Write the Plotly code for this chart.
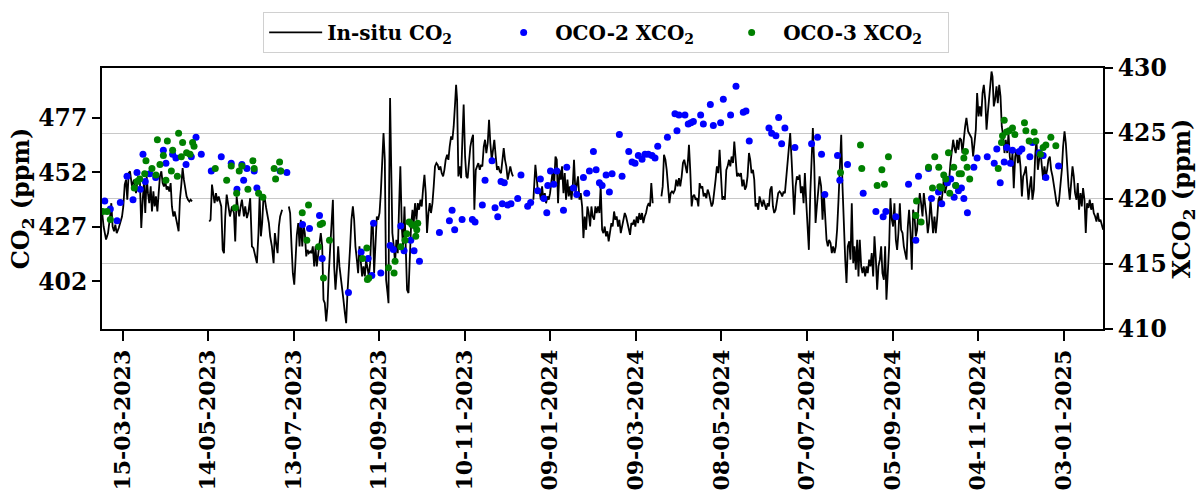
import pandas as pd
import plotly.graph_objects as go

START_DATE = "2023-03-15"

# In-situ CO2 (ppm): days since START_DATE, value (None = data gap)
insitu_days = [
    -14.4, -13.3, -11.6, -10.2, -8.8, -7.9, -7.0, -6.0, -5.1, -4.1, -2.7, -1.3, -0.4, 0.5, 1.5, 2.4, 3.3, 4.3, 5.2, 6.6,
    8.0, 9.4, 10.8, 12.2, 13.1, 14.1, 15.0, 15.9, 16.9, 17.8, 18.7, 19.7, 20.6, 21.6, 22.5, 23.4, 24.4, 25.3, 26.2, 27.2,
    28.1, 29.0, 30.0, 30.9, 31.8, 32.8, 33.7, 34.6, 35.6, 36.5, 37.4, 38.4, 39.3, 40.2, 41.2, 42.1, 43.0, 44.0, 44.9, 45.9,
    46.8, 47.7, 48.7, 54.0,
    60.8, 61.7, 62.7, 63.6, 64.5, 65.5, 66.4, 67.4, 69.2, 70.2, 71.1, 72.0, 73.0, 73.9, 75.3, 76.7, 78.1, 79.0, 80.0, 80.9,
    81.8, 82.8, 83.7, 85.1, 86.0, 87.2, 88.3, 89.5, 90.7, 91.8, 93.0, 94.2, 95.3, 96.1, 97.0, 97.9, 98.9, 99.8, 100.7, 101.7,
    102.6, 103.5, 104.7, 105.9, 106.8, 107.7, 108.7, 109.6, 110.5, 111.9, 114.0,
    116.6, 117.5, 118.5, 119.4, 120.4, 121.3, 122.2, 123.2, 124.1, 125.0, 126.0, 126.9, 127.8, 128.8, 129.7, 130.6, 131.6,
    132.5, 133.4, 134.4, 135.3, 136.2, 137.2, 138.1, 139.0, 140.0, 140.9, 141.8, 142.8, 143.7, 144.6, 145.6, 146.5, 147.5,
    148.4, 149.3, 150.3, 151.2, 152.1, 153.1, 154.0, 154.9, 155.9, 156.8, 157.7, 158.7, 159.6, 160.5, 161.5, 162.4, 163.3,
    164.3, 165.2, 166.1, 167.1, 168.0, 168.9, 169.9, 170.8, 171.7, 172.7, 173.6, 174.6, 175.5, 176.4, 177.4, 178.3, 179.2,
    180.2, 181.1, 182.0, 183.0, 183.9, 184.8, 185.8, 186.5, 186.9, 187.6, 188.3, 189.2, 190.2, 191.1, 192.0, 193.0, 193.9,
    194.8, 195.8, 196.7, 197.7, 198.6, 199.5, 200.5, 201.4, 202.3, 203.3, 204.2, 205.1, 206.1, 207.0, 207.9, 208.9, 209.8,
    210.7, 211.7, 212.6, 213.5, 214.5, 215.4, 216.3, 217.3, 218.2, 219.1, 220.1, 221.0, 221.9, 222.9, 223.8, 224.8, 225.7,
    226.6, 227.6, 228.5, 229.4, 230.4, 231.3, 232.2, 233.2, 233.9, 234.6, 235.5, 236.4, 237.4, 238.3, 239.2, 240.2, 241.1,
    242.0, 243.0, 243.9, 244.8, 245.8, 246.7, 247.7, 248.6, 249.5, 250.5, 251.4, 252.3, 253.3, 254.2, 255.1, 256.1, 257.0,
    257.9, 258.9, 259.8, 260.7, 261.7, 262.6, 263.5, 264.5, 265.4, 266.3, 267.3, 268.2, 269.1, 270.1, 271.0, 271.9, 272.9,
    273.8, 281.0,
    288.1, 288.6, 289.5, 290.5, 291.4, 292.3, 293.3, 294.2, 295.1, 296.1, 297.0, 298.0, 298.9, 299.8, 300.8, 301.7, 302.6,
    303.6, 304.5, 305.4, 306.4, 307.3, 308.2, 309.2, 310.1, 311.0, 312.0, 312.9, 313.8, 314.8, 315.7, 316.6, 317.6, 318.5,
    319.4, 320.4, 321.3, 322.3, 323.2, 324.1, 325.1, 326.0, 326.9, 327.9, 328.8, 329.7, 330.7, 331.6, 332.5, 333.5, 334.4,
    335.3, 336.3, 337.2, 338.1, 339.1, 340.0, 340.9, 341.9, 342.8, 343.7, 344.7, 345.6, 346.5, 347.5, 348.4, 349.4, 350.3,
    351.2, 352.2, 353.1, 354.0, 355.0, 355.9, 356.8, 357.8, 358.7, 359.6, 360.6, 361.5, 362.4, 363.4, 364.3, 365.2, 366.2,
    367.1, 368.0, 369.0, 369.9, 370.8, 371.8, 375.0,
    377.9, 378.8, 379.7, 380.7, 381.6, 382.5, 383.5, 384.4, 385.3, 386.3, 387.4, 388.3, 389.3, 390.2, 391.1, 392.1, 393.0,
    393.9, 394.9, 395.8, 396.7, 397.2, 398.1, 399.1, 400.0, 400.9, 401.9, 402.8, 403.8, 404.7, 405.6, 406.6, 407.5, 408.4,
    409.4, 410.3, 411.2, 412.2, 413.1, 414.0, 415.0, 415.9, 416.8, 417.8, 418.7, 419.6, 420.6, 421.5, 422.4, 423.4, 424.3,
    425.3, 426.2, 427.1, 428.1, 429.0, 429.9, 430.9, 431.8, 432.7, 433.7, 434.6, 435.5, 436.5, 437.4, 438.3, 439.3, 440.2,
    441.1, 442.1, 443.0, 443.9, 444.9, 445.8, 446.7, 447.7, 448.6, 449.5, 450.5, 451.4, 452.4, 453.3, 454.2, 455.2, 456.1,
    457.0, 458.0, 458.9, 459.8, 460.8, 461.7, 462.6, 463.6, 464.5, 465.4, 466.4, 467.3, 468.2, 469.2, 470.1, 471.0, 472.0,
    472.9, 473.9, 474.8, 475.7, 476.7, 477.6, 478.5, 479.5, 480.4, 481.3, 482.3, 483.2, 484.1, 485.1, 486.0, 486.9, 487.9,
    488.8, 489.9, 490.9, 491.8, 492.7, 493.7, 494.6, 495.5, 496.5, 497.4, 498.3, 499.3, 500.2, 501.1, 502.1, 503.0, 504.0,
    504.9, 505.8, 506.8, 507.7, 508.6, 509.6, 510.5, 511.4, 512.4, 513.3, 514.2, 515.2, 516.1, 517.0, 518.0, 518.9, 519.8,
    520.8, 521.7, 522.6, 523.6, 524.5, 525.4, 526.4, 527.3, 528.3, 529.2, 530.1, 531.1, 532.0, 532.9, 533.9, 534.8, 535.7,
    536.7, 537.6, 538.5, 539.5, 540.4, 541.3, 542.3, 543.2, 544.1, 545.1, 546.0, 547.0, 547.9, 548.8, 549.8, 550.7, 551.6,
    552.6, 553.5, 554.4, 555.4, 556.3, 557.2, 558.2, 559.1, 560.0, 561.0, 561.9, 562.8, 563.8, 564.7, 565.6, 566.6, 567.5,
    568.4, 569.4, 570.3, 571.2, 572.2, 573.1, 574.0, 575.0, 575.9, 576.8, 577.8, 578.7, 579.7, 580.6, 581.5, 582.5, 583.4,
    584.3, 585.3, 586.2, 587.1, 588.1, 589.0, 589.9, 590.9, 591.8, 593.0, 594.2, 595.4, 596.5, 597.5, 598.4, 599.3, 600.3,
    601.2, 602.2, 603.1, 604.0, 605.0, 605.9, 606.8, 607.8, 608.7, 609.4, 610.1, 611.0, 611.9, 612.9, 613.8, 614.8, 615.7,
    616.6, 617.6, 618.5, 619.4, 620.4, 621.3, 622.2, 623.2, 624.1, 625.0, 626.0, 626.9, 627.9, 628.8, 629.7, 630.7, 631.6,
    632.5, 633.5, 634.4, 635.3, 636.3, 637.2, 638.1, 639.1, 640.0, 640.9, 641.9, 642.8, 643.7, 644.7, 645.6, 646.5, 647.5,
    648.4, 649.3, 650.3, 651.2, 652.2, 653.1, 654.0, 655.0, 655.9, 656.8, 657.8, 658.7, 659.6, 660.6, 661.5, 662.4, 663.4,
    664.3, 665.2, 666.2, 667.1, 668.0, 669.0, 669.9, 670.8, 671.8, 672.7, 673.6, 674.6, 675.5, 676.4, 677.4, 678.3, 679.3,
    680.2, 681.1, 682.1, 683.0, 683.9, 684.9, 685.8, 686.7, 687.7,
]
insitu_ppm = [
    434.1, 427.2, 421.2, 424.2, 431.8, 437.9, 427.2, 425.0, 428.0, 424.2, 426.5, 430.3, 431.8, 436.4, 446.4, 448.7, 439.5, 451.7, 452.5, 445.6,
    448.7, 442.5, 450.2, 447.1, 426.5, 439.5, 447.1, 433.4, 450.2, 442.5, 437.9, 445.6, 434.1, 443.3, 436.4, 441.0, 434.1, 442.5, 450.2, 452.5,
    447.1, 445.6, 447.9, 444.1, 445.6, 443.3, 447.1, 436.4, 431.8, 434.1, 430.3, 428.0, 425.0, 439.5, 446.4, 454.0, 448.7, 444.1, 441.0, 439.5,
    438.7, 439.5, 438.7, None,
    429.5, 430.3, 446.4, 441.0, 437.9, 442.5, 438.7, 441.0, 436.4, 416.5, 415.0, 431.8, 441.8, 437.9, 431.8, 436.4, 433.4, 420.4, 441.0, 435.7,
    431.8, 436.4, 439.5, 431.8, 436.4, 431.1, 434.1, 440.2, 418.1, 417.3, 414.3, 410.4, 424.2, 441.0, 422.7, 428.8, 441.8, 439.5, 435.7, 431.8,
    428.8, 422.7, 418.1, 410.4, 424.2, 419.6, 415.0, 427.2, 431.8, 434.9, None,
    436.4, 433.4, 418.1, 405.8, 400.5, 413.5, 423.4, 428.8, 418.1, 430.3, 418.1, 428.0, 424.2, 413.5, 416.5, 415.0, 415.8,
    415.0, 418.1, 408.9, 418.1, 408.9, 413.5, 419.6, 424.2, 418.1, 393.6, 392.1, 383.7, 390.5, 405.8, 416.5, 428.8, 439.5,
    408.9, 398.2, 407.4, 418.1, 408.9, 404.3, 399.7, 393.6, 387.5, 382.9, 396.7, 405.8, 418.1, 430.3, 436.4, 430.3, 418.1,
    412.0, 405.8, 418.1, 412.0, 404.3, 408.9, 404.3, 412.0, 408.9, 404.3, 410.4, 427.2, 428.8, 405.8, 419.6, 431.8, 430.3,
    433.4, 442.5, 457.8, 470.1, 457.8, 402.8, 396.7, 392.0, 442.5, 486.1, 457.8, 424.2, 418.1, 410.4, 421.1, 415.0, 436.4,
    454.8, 427.2, 418.1, 436.4, 412.0, 398.2, 396.7, 415.0, 427.2, 434.9, 428.8, 437.9, 430.3, 437.9, 434.9, 439.5, 436.4,
    444.1, 450.9, 442.5, 424.2, 433.4, 437.9, 433.4, 437.9, 445.6, 454.8, 456.3, 455.5, 453.2, 454.8, 451.7, 450.2, 453.2,
    457.8, 460.1, 457.8, 463.9, 468.5, 467.0, 473.1, 483.8, 492.2, 485.3, 450.2, 454.8, 449.4, 467.0, 483.1, 459.3, 450.2,
    449.4, 457.8, 463.9, 467.0, 469.3, 434.9, 453.2, 454.8, 456.3, 453.2, 455.5, 454.8, 463.9, 467.0, 460.9, 465.5, 476.2,
    465.5, 457.8, 462.4, 467.0, 459.3, 453.2, 454.8, 452.5, 451.7, 457.8, 463.2, 457.8, 454.8, 448.7, 451.7, 454.8, 451.7,
    450.2, None,
    439.5, 445.6, 455.5, 448.7, 442.5, 444.1, 439.5, 445.6, 439.5, 442.5, 437.9, 441.0, 439.5, 442.5, 447.1, 453.2, 445.6,
    459.3, 457.8, 437.9, 453.2, 448.7, 454.8, 442.5, 451.7, 439.5, 448.7, 441.0, 445.6, 439.5, 445.6, 457.8, 442.5, 445.6,
    450.2, 439.5, 442.5, 436.4, 421.9, 431.8, 425.7, 436.4, 433.4, 427.2, 436.4, 431.8, 430.3, 436.4, 433.4, 436.4, 433.4,
    445.6, 425.7, 424.2, 427.2, 422.7, 425.0, 420.4, 425.7, 428.8, 427.2, 434.1, 430.3, 431.8, 427.2, 430.3, 424.2, 427.2,
    430.3, 433.4, 431.8, 428.8, 427.2, 423.4, 428.8, 428.0, 430.3, 427.2, 431.8, 428.8, 433.4, 430.3, 433.4, 428.8, 431.8,
    433.4, 436.4, 437.9, 436.4, 447.1, 437.9, None,
    441.0, 445.6, 460.1, 457.8, 453.2, 444.1, 437.9, 442.5, 443.3, 442.5, 444.1, 448.7, 445.6, 449.4, 445.6, 450.2, 456.3,
    457.8, 454.8, 451.7, 459.3, 464.7, 453.2, 436.4, 441.0, 441.8, 439.5, 440.2, 436.4, 447.1, 444.8, 445.6, 441.0, 442.5,
    440.2, 444.1, 442.5, 439.5, 436.4, 437.9, 442.5, 448.7, 454.8, 451.7, 462.4, 453.2, 439.5, 441.0, 439.5, 453.2, 454.8,
    457.8, 454.8, 459.3, 456.3, 466.2, 459.3, 450.2, 451.7, 450.2, 451.7, 445.6, 448.7, 444.1, 445.6, 450.2, 460.9, 457.8,
    451.7, 453.2, 448.7, 436.4, 437.9, 434.9, 441.0, 437.9, 436.4, 439.5, 436.4, 434.9, 437.9, 436.4, 444.1, 445.6, 436.4,
    433.4, 434.9, 439.5, 442.5, 443.3, 442.5, 441.0, 443.3, 442.5, 450.2, 457.8, 463.9, 470.1, 457.8, 445.6, 432.6, 445.6,
    450.2, 448.7, 450.9, 442.5, 445.6, 437.9, 451.7, 437.9, 425.7, 416.5, 442.5, 462.4, 472.4, 454.8, 428.8, 436.4, 444.1,
    450.2, 445.6, 430.3, 442.5, 431.8, 421.1, 418.1, 421.1, 419.6, 415.0, 418.1, 415.0, 418.1, 425.7, 439.5, 453.2, 469.3,
    445.6, 424.2, 412.0, 401.3, 418.1, 420.4, 412.0, 437.9, 410.4, 418.1, 407.4, 421.1, 404.3, 421.1, 408.9, 405.8, 408.9,
    404.3, 408.9, 405.8, 412.0, 408.9, 415.0, 404.3, 422.7, 412.0, 398.2, 408.9, 412.0, 418.1, 405.8, 402.8, 418.1, 393.6,
    408.9, 418.1, 440.2, 430.3, 427.2, 437.9, 421.1, 416.5, 424.2, 437.9, 425.7, 424.2, 418.1, 415.0, 412.0, 427.2, 434.9,
    424.2, 407.4, 434.9, 431.8, 422.7, 425.7, 436.4, 442.5, 437.9, 431.8, 442.5, 437.9, 431.8, 424.2, 428.8, 439.5, 430.3,
    424.2, 431.8, 424.2, 430.3, 439.5, 441.0, 436.4, 442.5, 448.7, 442.5, 445.6, 450.2, 448.7, 456.3, 462.4, 467.0, 463.2,
    460.9, 467.0, 462.4, 467.8, 467.0, 460.9, 468.5, 473.1, 477.0, 470.8, 469.3, 467.8, 459.3, 465.5, 471.6, 488.4, 477.7,
    482.3, 477.7, 488.4, 492.2, 485.3, 471.6, 479.2, 488.4, 494.5, 498.3, 496.0, 482.3, 485.3, 491.5, 483.8, 492.2, 486.9,
    473.1, 468.5, 460.9, 467.0, 460.9, 470.1, 459.3, 454.8, 460.9, 444.8, 459.3, 462.4, 456.3, 460.9, 454.8, 441.0, 450.2,
    451.7, 454.8, 447.1, 439.5, 445.6, 450.2, 439.5, 444.1, 459.3, 467.0, 453.2, 457.8, 462.4, 454.8, 448.7, 454.8, 450.2,
    453.2, 457.8, 459.3, 453.2, 450.2, 447.1, 442.5, 437.9, 436.4, 439.5, 445.6, 453.2, 463.9, 470.8, 465.5, 454.8, 445.6,
    439.5, 447.1, 454.8, 450.2, 442.5, 439.5, 447.1, 434.9, 442.5, 436.4, 444.8, 439.5, 424.2, 437.9, 435.7, 439.5, 434.9,
    437.9, 433.4, 431.8, 429.5, 433.4, 429.5, 430.3, 428.0, 425.7,
]

# OCO-2 XCO2 (ppm)
oco2_days = [
    -12.5, -8.6, -3.9, -1.6, 3.1, 7.3, 10.1, 12.4, 14.3, 15.9, 19.0, 23.2, 28.6, 30.4, 35.1, 37.4, 44.5, 48.2, 51.5, 55.2,
    62.2, 69.2, 76.2, 80.2, 83.7, 84.9, 87.2, 92.3, 94.2, 110.5, 115.2, 126.2, 131.1, 138.1, 140.0, 158.4, 167.3, 172.2,
    174.8, 176.0, 181.1, 187.6, 189.9, 195.1, 197.4, 202.1, 204.4, 208.2, 222.2, 229.2, 231.1, 232.9, 238.1, 245.3, 247.2,
    252.3, 254.2, 259.1, 261.2, 263.1, 265.4, 266.3, 267.7, 270.1, 272.4, 277.1, 279.4, 284.1, 286.2, 291.2, 293.0, 295.4,
    297.5, 298.2, 300.1, 302.4, 304.5, 309.2, 311.5, 316.2, 318.5, 323.2, 325.5, 327.4, 330.2, 332.1, 334.4, 336.3, 339.1,
    341.4, 343.3, 348.4, 350.3, 355.0, 357.3, 359.4, 361.7, 364.3, 366.4, 368.7, 371.3, 373.4, 375.3, 382.1, 387.4, 388.8,
    390.2, 394.4, 396.7, 398.6, 400.3, 405.4, 407.3, 412.2, 414.3, 419.4, 421.3, 426.4, 430.2, 435.3, 437.2, 439.5, 453.3,
    455.2, 458.2, 460.1, 462.2, 464.5, 471.5, 483.2, 487.4, 490.2, 492.5, 501.4, 503.0, 508.4, 519.4, 528.3, 533.4, 535.3,
    542.3, 551.2, 556.3, 558.2, 565.2, 567.3, 572.2, 574.5, 578.5, 580.8, 583.2, 584.3, 586.2, 588.3, 590.0, 592.5, 597.0,
    599.3, 606.4, 611.3, 613.1, 615.5, 618.3, 620.1, 622.7, 624.1, 628.8, 630.7, 636.3, 638.1, 642.8, 645.6, 647.5, 656.4,
]
oco2_xco2 = [
    419.8, 419.2, 418.3, 419.7, 421.7, 419.9, 422.0, 420.7, 423.4, 421.3, 421.9, 421.6, 423.7, 422.7, 423.4, 423.1, 422.6, 423.2, 424.7, 423.4,
    422.1, 423.2, 422.7, 420.7, 422.6, 421.4, 422.3, 422.1, 420.8, 422.1, 422.0, 418.0, 417.7, 418.7, 415.4, 412.8, 415.9, 415.4,
    414.1, 418.1, 414.3, 416.4, 416.1, 417.9, 416.0, 416.8, 416.0, 415.2, 417.4, 418.3, 419.1, 417.6, 418.4, 418.4, 418.2,
    419.5, 421.4, 422.9, 419.3, 418.6, 421.3, 419.6, 421.2, 419.5, 419.6, 420.0, 421.8, 419.4, 419.7, 420.6, 421.5, 420.0,
    418.9, 421.0, 422.1, 421.1, 422.1, 419.1, 422.4, 420.8, 420.3, 421.6, 420.4, 422.1, 423.6, 422.2, 421.2, 421.0, 421.8,
    420.5, 421.9, 424.9, 421.7, 423.6, 422.8, 422.7, 423.3, 423.0, 423.4, 423.4, 423.3, 423.1, 424.0, 424.7, 426.5, 425.2,
    426.4, 426.4, 425.7, 425.8, 425.9, 426.4, 425.7, 427.2, 425.6, 425.8, 427.6, 426.4, 428.6, 426.6, 426.7, 424.4, 425.4,
    425.0, 424.8, 426.2, 424.2, 425.4, 423.9, 424.2, 424.7, 423.4, 420.3, 423.3, 421.4, 422.6, 420.4, 419.0, 418.6, 419.0,
    418.6, 421.1, 416.8, 421.7, 422.3, 420.0, 420.5, 419.6, 421.2, 421.5, 420.1, 421.0, 420.6, 420.8, 420.0, 418.9, 422.4,
    423.1, 423.2, 422.7, 423.8, 421.2, 422.8, 423.9, 422.7, 423.7, 423.6, 423.8, 423.2, 424.3, 423.5, 423.3, 421.6, 422.5,
]

# OCO-3 XCO2 (ppm)
oco3_days = [
    -13.9, -10.9, -8.6, 8.2, 10.1, 12.0, 15.5, 16.4, 20.6, 23.4, 24.4, 26.2, 28.6, 30.4, 31.4, 34.2, 35.1, 38.4, 39.3, 41.2,
    42.1, 44.9, 47.3, 49.1, 50.1, 65.0, 73.0, 76.2, 79.0, 80.0, 81.8, 83.7, 87.9, 91.4, 92.3, 95.4, 98.4, 106.3, 107.3,
    110.1, 111.0, 126.0, 129.2, 130.4, 137.4, 138.6, 140.2, 140.9, 145.1, 168.3, 171.3, 171.7, 172.7, 186.5, 190.4, 191.1,
    195.1, 198.1, 199.3, 200.9, 202.8, 205.1, 205.6, 206.3, 207.0, 503.5, 517.5, 518.4, 529.2, 532.5, 534.3, 537.1, 556.3,
    556.8, 560.0, 565.2, 568.0, 569.6, 572.4, 573.1, 574.3, 575.9, 577.3, 579.2, 580.1, 582.9, 584.3, 586.7, 588.3, 590.0,
    591.1, 592.3, 594.1, 614.1, 616.4, 617.1, 618.3, 619.9, 621.8, 624.1, 625.8, 632.5, 633.5, 635.8, 639.3, 640.5, 643.7,
    645.6, 647.5, 651.0, 654.5,
]
oco3_xco2 = [
    419.0, 419.0, 418.4, 420.8, 421.3, 421.5, 421.9, 422.9, 422.3, 421.8, 424.5, 422.6, 423.3, 421.4, 424.4, 422.1, 423.7, 421.7, 425.0, 423.2,
    424.3, 423.5, 423.4, 424.3, 424.0, 422.3, 421.4, 422.5, 419.3, 420.4, 422.1, 422.5, 420.7, 422.9, 422.3, 420.4, 420.1, 422.3, 421.5,
    422.8, 422.1, 418.9, 416.8, 419.5, 416.3, 418.0, 418.1, 413.9, 416.8, 415.4, 416.2, 413.8, 413.9, 414.7, 414.3, 415.2,
    416.3, 416.8, 417.3, 418.2, 418.0, 417.9, 417.1, 417.6, 418.1, 422.0, 424.1, 422.3, 421.0, 422.2, 421.1, 423.2, 418.7,
    419.8, 418.2, 422.4, 420.8, 423.2, 422.4, 420.9, 420.8, 421.8, 421.5, 423.5, 420.4, 422.4, 421.0, 421.9, 421.9, 423.1,
    423.6, 422.4, 421.5, 422.3, 424.3, 424.8, 426.0, 425.1, 425.2, 425.4, 424.9, 425.8, 425.2, 424.4, 425.1, 424.4, 423.4,
    423.9, 424.1, 424.7, 424.05,
]

# Axis ticks
x_tick_dates = ["2023-03-15", "2023-05-14", "2023-07-13", "2023-09-11", "2023-11-10", "2024-01-09",
                "2024-03-09", "2024-05-08", "2024-07-07", "2024-09-05", "2024-11-04", "2025-01-03"]
x_tick_labels = ["15-03-2023", "14-05-2023", "13-07-2023", "11-09-2023", "10-11-2023", "09-01-2024",
                 "09-03-2024", "08-05-2024", "07-07-2024", "05-09-2024", "04-11-2024", "03-01-2025"]
left_ticks = [402, 427, 452, 477]
right_ticks = [410, 415, 420, 425, 430]

start = pd.Timestamp(START_DATE)
def to_dates(days):
    return [start + pd.Timedelta(days=d) for d in days]

FONT = "DejaVu Serif"
TICK_FONT = dict(family=FONT, size=23.5, color="black", weight="bold")
XTICK_FONT = dict(family=FONT, size=22, color="black", weight="bold")
TITLE_FONT = dict(family=FONT, size=24, color="black", weight="bold")

fig = go.Figure()
fig.add_trace(go.Scatter(
    x=to_dates(insitu_days), y=insitu_ppm, mode="lines", connectgaps=False,
    line=dict(color="black", width=1.8), name="In-situ CO<sub>2</sub>", yaxis="y"))
fig.add_trace(go.Scatter(
    x=to_dates(oco2_days), y=oco2_xco2, mode="markers",
    marker=dict(color="#0000ff", size=7), name="OCO-2 XCO<sub>2</sub>", yaxis="y2"))
fig.add_trace(go.Scatter(
    x=to_dates(oco3_days), y=oco3_xco2, mode="markers",
    marker=dict(color="#008000", size=7), name="OCO-3 XCO<sub>2</sub>", yaxis="y2"))

fig.update_layout(
    width=1199, height=495,
    margin=dict(l=102, r=96, t=68, b=166, autoexpand=False),
    paper_bgcolor="white", plot_bgcolor="white",
    font=dict(family=FONT, size=22, color="black", weight="bold"),
    showlegend=True,
    legend=dict(orientation="h", x=0.161, xanchor="left", y=1.215, yanchor="top",
                bgcolor="white", bordercolor="#d0d0d0", borderwidth=1,
                itemwidth=53,
                font=dict(family=FONT, size=20, color="black", weight="bold"),
                entrywidth=160, entrywidthmode="pixels"),
    xaxis=dict(
        type="date", range=["2023-02-28 13:30", "2025-01-30 14:00"],
        tickvals=x_tick_dates, ticktext=x_tick_labels, tickangle=-90,
        ticks="outside", ticklen=10, tickwidth=2, tickcolor="black",
        showline=True, linecolor="black", linewidth=2, mirror=True,
        showgrid=False, zeroline=False, automargin=False,
        tickfont=XTICK_FONT),
    yaxis=dict(
        range=[380.2, 499.9], tickvals=left_ticks,
        ticks="outside", ticklen=8, tickwidth=2, tickcolor="black",
        showline=True, linecolor="black", linewidth=2, mirror=True,
        showgrid=False, zeroline=False, automargin=False,
        title=dict(text="CO<sub>2</sub> (ppm)", standoff=2, font=TITLE_FONT),
        tickfont=TICK_FONT),
    yaxis2=dict(
        overlaying="y", side="right", range=[410, 430], tickvals=right_ticks,
        ticks="outside", ticklen=8, tickwidth=2, tickcolor="black",
        showline=True, linecolor="black", linewidth=2,
        showgrid=True, gridcolor="#c8c8c8", gridwidth=1, zeroline=False,
        automargin=False,
        title=dict(text="XCO<sub>2</sub> (ppm)", standoff=2, font=TITLE_FONT),
        tickfont=TICK_FONT),
)

fig.write_html("out.html", config={"displayModeBar": False},
               post_script="document.body.style.margin='0px';")
